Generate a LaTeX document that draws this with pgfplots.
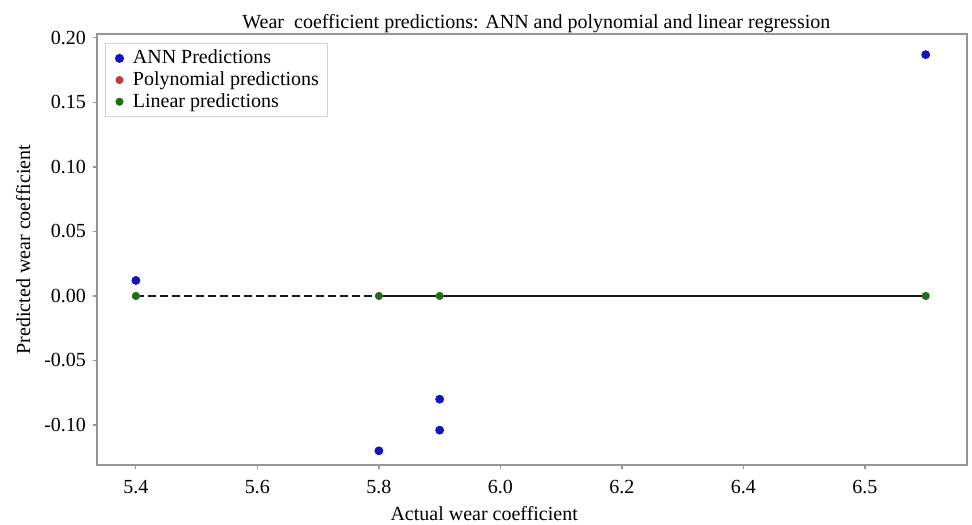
\documentclass[border=0pt]{standalone}
\usepackage{pgfplots}
\pgfplotsset{compat=1.18}
\usepackage{fontspec}
\setmainfont{Liberation Serif}
\definecolor{annblue}{RGB}{20,20,190}
\definecolor{polyred}{RGB}{190,60,60}
\definecolor{lingreen}{RGB}{30,110,30}
\definecolor{framegray}{RGB}{150,150,150}
\begin{document}
\begin{tikzpicture}
\begin{axis}[
  scale only axis,
  width=435pt, height=215.5pt,
  xmin=5.336, xmax=6.768,
  ymin=-0.131, ymax=0.203,
  xtick={5.4,5.6,5.8,6.0,6.2,6.4,6.6},
  xticklabels={5.4,5.6,5.8,6.0,6.2,6.4,6.5},
  ytick={-0.10,-0.05,0,0.05,0.10,0.15,0.20},
  yticklabels={-0.10,-0.05,0.00,0.05,0.10,0.15,0.20},
  /pgf/number format/assume math mode=true,
  font=\fontsize{10}{12}\selectfont,
  tick label style={font=\fontsize{10}{12}\selectfont},
  xticklabel style={yshift=-2pt},
  tick align=outside, tick pos=left,
  major tick length=2pt,
  every tick/.style={framegray, line width=0.6pt},
  axis line style={framegray, line width=0.9pt},
  every axis title shift=0pt,
  title={Wear\ \ coefficient predictions: ANN and polynomial and linear regression},
  title style={at={(axis description cs:0.505,1)}, anchor=base, yshift=2.5pt, inner sep=0pt},
  xlabel={Actual wear coefficient},
  xlabel style={at={(axis description cs:0.445,0)}, anchor=base, yshift=-27.5pt, inner sep=0pt},
  ylabel={Predicted wear coefficient},
  ylabel style={at={(axis description cs:-0.077,0.5)}, anchor=base, inner sep=0pt},
  legend style={at={(axis description cs:0.0092,0.979)}, anchor=north west,
    draw=gray!35, line width=0.5pt, fill=white,
    font=\fontsize{10}{11}\selectfont, row sep=0pt, inner xsep=3pt, inner ysep=2pt,
    nodes={inner sep=1.2pt}},
  legend cell align=left,
  legend image code/.code={\path[draw=none] (-1pt,0pt) -- (8.5pt,0pt); \path[draw=none,#1] plot coordinates {(3pt,0pt)};},
]
% reference lines
\addplot[forget plot, black!90, line width=1.25pt, dash pattern=on 4pt off 2pt] coordinates {(5.4,0) (6.7,0)};
\addplot[forget plot, black!90, line width=1.25pt] coordinates {(5.8,0) (5.9,0) (6.7,0)};
% series
\addplot[only marks, mark=*, mark size=2pt, annblue, mark options={draw=annblue, fill=annblue}]
  coordinates {(5.4,0.012) (5.8,-0.120) (5.9,-0.080) (5.9,-0.104) (6.7,0.187)};
\addlegendentry{ANN Predictions}
\addplot[only marks, mark=*, mark size=1.75pt, polyred, mark options={draw=polyred, fill=polyred}]
  coordinates {(5.4,0) (5.8,0) (5.9,0) (6.7,0)};
\addlegendentry{Polynomial predictions}
\addplot[only marks, mark=*, mark size=1.75pt, lingreen, mark options={draw=lingreen, fill=lingreen}]
  coordinates {(5.4,0) (5.8,0) (5.9,0) (6.7,0)};
\addlegendentry{Linear predictions}
\node[anchor=east, inner sep=0pt, font=\fontsize{10}{12}\selectfont] at (rel axis cs:1,0) [yshift=-9.5pt, xshift=0.5pt] {le-5};
\end{axis}
\path (current axis.south west) ++(-48.5pt,-29.5pt) coordinate (bbA);
\path (current axis.north east) ++(2.5pt,17pt) coordinate (bbB);
\path (bbA) rectangle (bbB);
\end{tikzpicture}
\end{document}
